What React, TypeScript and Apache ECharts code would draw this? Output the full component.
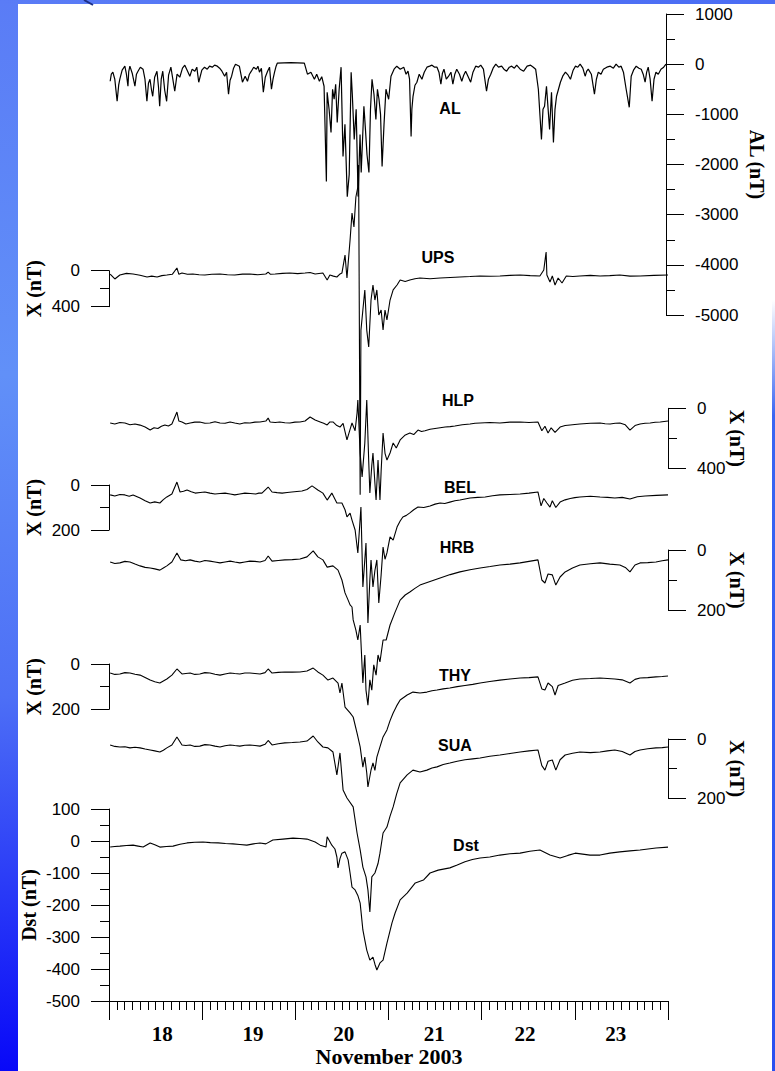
import React, { useEffect, useRef } from 'react';
import * as echarts from 'echarts';

// Time is given in hours since 2003-11-18 00:00 UT; values in nT.
const dayLabels = ['18', '19', '20', '21', '22', '23'];

const alData: number[][] = [
  [0.3, -340], [0.6, -200], [1.0, -160], [1.5, -300], [2.1, -740], [2.5, -420], [2.8, -300], [3.4, -120], [4.1, -40],
  [4.5, -200], [4.9, -440], [5.1, -150], [5.4, -40], [6.0, -180], [6.7, -440], [7.1, -200], [7.5, -140], [8.1, -60],
  [8.8, -100], [9.3, -300], [9.8, -740], [10.2, -380], [10.6, -300], [11.0, -520], [11.3, -640], [11.8, -260],
  [12.4, -140], [12.8, -460], [13.1, -840], [13.5, -300], [13.9, -140], [14.4, -520], [14.9, -740], [15.4, -220],
  [16.0, -60], [16.5, -300], [17.0, -540], [17.6, -200], [18.3, -260], [19.0, -80], [19.6, -20], [20.2, -120],
  [20.9, -240], [21.5, -100], [22.2, -140], [22.7, -60], [23.2, -360], [24.0, -120], [24.7, -60], [25.4, -100],
  [26.0, -40], [26.7, -60], [27.3, -20], [28.0, -40], [28.6, -80], [29.2, -140], [29.9, -240], [30.4, -160],
  [30.9, -600], [31.3, -320], [31.7, -240], [32.2, -80], [32.7, 0], [33.2, -20], [33.7, -40], [34.1, -200],
  [34.5, -360], [35.2, -240], [35.8, -340], [36.3, -200], [36.8, -140], [37.4, -60], [38.1, -100], [38.5, -40],
  [38.9, -160], [39.4, -80], [39.9, -560], [40.4, -260], [41.0, -140], [41.5, -60], [42.0, -500], [42.4, -300],
  [42.8, -160], [43.2, -40], [43.5, 20], [47.0, 30], [50.5, 20], [51.3, -200], [52.2, -160], [53.1, -300],
  [53.7, -200], [54.4, -340], [55.0, -250], [55.6, -440], [56.2, -2340], [56.4, -560], [56.9, -900], [57.4, -1360],
  [57.8, -500], [58.2, -700], [58.6, -400], [59.0, -1160], [59.5, -500], [60.0, -60], [60.5, -1840], [61.0, -1200],
  [61.6, -2640], [62.1, -2200], [62.6, -160], [62.9, -600], [63.4, -1500], [63.9, -900], [64.4, -2640], [64.9, -1400],
  [65.2, -2160], [65.9, -840], [66.3, -1300], [66.7, -1800], [67.2, -2160], [67.6, -900], [68.0, -300], [68.5, -600],
  [69.0, -1100], [69.4, -500], [69.8, -700], [70.2, -1000], [70.6, -2040], [71.1, -1200], [71.6, -500], [72.3, -700],
  [72.9, -240], [73.7, -100], [74.4, -40], [75.3, -100], [76.2, -60], [76.8, -200], [77.3, -140], [77.7, -300],
  [78.1, -1440], [78.3, -900], [78.6, -640], [79.1, -420], [79.6, -360], [80.2, -200], [80.9, -300], [81.5, -160],
  [82.2, -60], [82.9, -40], [83.5, -20], [84.2, -60], [84.8, -60], [85.3, -160], [85.8, -400], [86.2, -180],
  [86.6, -100], [87.2, -300], [87.8, -240], [88.4, -160], [88.9, -400], [89.4, -200], [89.9, -100], [90.6, -200],
  [91.2, -340], [91.7, -220], [92.2, -140], [92.8, -240], [93.5, -360], [94.1, -160], [94.8, -40], [95.5, -60],
  [96.1, -20], [96.8, -100], [97.6, -540], [98.1, -300], [98.7, -200], [99.3, -80], [100.0, 0], [100.7, -60],
  [101.5, -40], [102.1, -100], [102.8, -140], [103.5, -60], [104.1, -40], [104.8, -80], [105.4, -20], [106.3, -100],
  [107.2, -140], [108.1, -40], [109.0, -20], [109.7, -60], [110.3, -100], [111.0, -500], [111.8, -1500], [112.2, -900],
  [112.6, -840], [113.1, -440], [113.9, -1300], [114.4, -560], [114.9, -1560], [115.3, -900], [115.7, -640],
  [116.2, -500], [116.7, -360], [117.3, -240], [118.0, -160], [118.7, -220], [119.3, -300], [120.0, -120],
  [120.6, -40], [121.2, -60], [121.8, 0], [122.5, -80], [123.1, -240], [123.5, -140], [123.9, -100], [124.7, -200],
  [125.5, -600], [126.0, -300], [126.5, -160], [127.2, -200], [127.8, -100], [128.7, -60], [129.6, -40], [130.4, -80],
  [131.1, 0], [131.8, -60], [132.4, -40], [133.0, -160], [133.7, -500], [134.5, -860], [135.0, -240], [135.6, -120],
  [136.3, -40], [137.0, -80], [137.6, -100], [138.1, -200], [138.6, -360], [139.0, -160], [139.4, -60], [139.9, -300],
  [140.4, -740], [140.9, -300], [141.4, -160], [142.0, -200], [142.7, -100], [143.4, -60], [144.0, 0],
];

const upsData: number[][] = [
  [0.3, 37], [1.5, 92], [2.8, 48], [4.5, 30], [6.2, 37], [8.0, 50], [9.8, 70], [11.0, 60], [12.4, 70], [13.6, 55],
  [14.9, 48], [16.3, 40], [17.5, -30], [18.0, 40], [18.8, 26], [20.2, 40], [21.6, 37], [23.2, 45], [24.7, 48],
  [26.5, 40], [28.6, 37], [30.5, 45], [32.4, 48], [34.4, 38], [36.3, 37], [38.3, 45], [40.4, 37], [41.0, 15],
  [41.6, 40], [42.8, 37], [44.7, 30], [46.6, 26], [48.6, 32], [50.5, 26], [51.8, 20], [53.1, 37], [55.1, 26],
  [56.2, 103], [56.9, 48], [57.8, 60], [58.7, 70], [59.4, 40], [60.0, 26], [60.8, -174], [61.3, 81],
  [62.1, -341], [62.6, -641], [63.1, -486], [63.6, -819], [64.1, -930], [64.3, -1175], [64.7, 2490], [64.9, 660],
  [65.4, 437], [65.9, 214], [66.4, 660], [66.9, 848], [67.5, 326], [68.0, 159], [68.5, 326], [69.0, 214],
  [69.5, 492], [70.1, 437], [70.6, 659], [71.1, 437], [71.6, 548], [72.4, 326], [73.2, 214], [74.2, 159],
  [75.0, 103], [76.3, 120], [77.5, 103], [78.8, 90], [80.1, 81], [82.7, 90], [85.3, 81], [87.9, 75], [90.4, 70],
  [93.0, 65], [95.6, 59], [98.2, 62], [100.7, 59], [103.3, 52], [105.9, 48], [108.5, 55], [111.0, 59], [112.0, -8],
  [112.6, -208], [112.8, 48], [113.6, 126], [114.2, 59], [114.9, 159], [115.7, 81], [116.7, 137], [117.8, 59],
  [119.5, 65], [121.3, 59], [124.0, 52], [126.5, 59], [129.0, 55], [131.6, 48], [134.2, 60], [136.8, 59],
  [140.4, 52], [144.0, 48],
];

const hlpData: number[][] = [
  [0.3, 98], [1.5, 105], [2.8, 95], [4.1, 98], [5.4, 110], [6.7, 105], [8.0, 112], [9.3, 125], [10.6, 145],
  [11.6, 130], [12.6, 135], [13.5, 120], [14.4, 111], [15.3, 118], [16.2, 105], [17.5, 25], [18.0, 85], [18.8, 91],
  [19.8, 105], [20.9, 98], [22.1, 92], [23.4, 91], [24.7, 100], [26.0, 98], [27.3, 90], [28.6, 98], [29.9, 100],
  [31.2, 91], [32.4, 98], [33.7, 105], [35.0, 96], [36.3, 98], [37.6, 92], [38.9, 91], [40.4, 85], [41.0, 65],
  [41.5, 91], [42.8, 95], [44.0, 91], [45.3, 96], [46.6, 98], [47.9, 92], [49.2, 91], [50.5, 85], [51.8, 58],
  [53.1, 78], [54.4, 91], [55.3, 100], [56.2, 111], [56.9, 91], [57.7, 91], [58.7, 115], [59.5, 125], [60.3, 100],
  [61.3, 211], [62.1, 140], [62.6, 98], [63.4, 150], [63.9, 31], [64.1, -55], [64.7, 300], [65.2, 458], [65.9, 231],
  [66.4, -55], [66.9, 350], [67.2, 565], [67.7, 380], [68.0, 298], [68.5, 500], [68.8, 611], [69.3, 345], [69.8, 611],
  [70.1, 420], [70.6, 165], [71.1, 300], [71.6, 345], [72.4, 298], [73.2, 231], [74.0, 265], [75.0, 211], [76.2, 180],
  [77.5, 165], [78.5, 175], [79.6, 145], [80.5, 155], [81.4, 150], [82.7, 140], [84.0, 135], [85.3, 130], [86.6, 125],
  [87.9, 122], [89.1, 118], [91.0, 110], [93.0, 105], [94.3, 100], [95.6, 98], [98.1, 95], [100.7, 98], [103.3, 92],
  [105.9, 91], [108.2, 95], [110.5, 91], [111.5, 150], [112.3, 120], [113.1, 165], [113.9, 130], [114.9, 160],
  [116.2, 125], [117.5, 115], [118.8, 111], [120.0, 108], [121.3, 105], [124.0, 100], [126.5, 98], [127.8, 103],
  [129.1, 105], [130.4, 100], [131.6, 98], [133.0, 110], [134.2, 145], [135.5, 115], [136.8, 105], [138.1, 100],
  [139.4, 98], [140.7, 93], [142.0, 91], [144.0, 85],
];

const belData: number[][] = [
  [0.3, 44], [1.5, 49], [2.8, 42], [4.1, 44], [5.2, 50], [6.2, 44], [8.0, 58], [9.3, 70], [10.6, 80], [11.8, 75],
  [13.1, 80], [14.0, 65], [14.9, 53], [16.2, 40], [17.5, -13], [18.3, 31], [19.2, 28], [20.1, 22], [21.2, 30],
  [22.2, 36], [23.5, 33], [24.7, 31], [26.0, 36], [27.3, 40], [28.6, 38], [29.9, 36], [31.2, 40], [32.4, 44],
  [33.7, 40], [35.0, 36], [36.4, 38], [37.8, 40], [38.6, 36], [39.4, 36], [41.0, 9], [42.0, 31], [43.3, 34],
  [44.6, 36], [45.9, 33], [47.1, 31], [48.4, 29], [49.7, 27], [51.0, 20], [52.3, 4], [53.8, 22], [55.1, 36],
  [56.2, 67], [57.4, 36], [58.7, 80], [60.0, 80], [60.8, 110], [61.3, 142], [62.1, 125], [62.6, 156], [63.4, 200],
  [64.1, 302], [64.7, 150], [64.9, 98], [65.4, 453], [66.2, 258], [66.7, 613], [67.2, 420], [67.5, 333], [68.0, 453],
  [68.5, 380], [69.0, 333], [69.5, 524], [70.1, 400], [70.6, 276], [71.1, 330], [71.6, 302], [72.4, 231], [73.2, 245],
  [74.2, 187], [75.0, 160], [75.7, 142], [76.6, 135], [77.5, 124], [78.5, 110], [79.6, 98], [81.1, 100], [82.7, 93],
  [84.0, 85], [85.3, 80], [86.5, 82], [87.8, 76], [89.1, 70], [90.4, 67], [91.7, 62], [93.0, 58], [95.0, 55],
  [96.9, 53], [98.8, 48], [100.7, 44], [103.3, 42], [105.9, 40], [108.2, 36], [110.5, 31], [111.3, 93], [112.0, 60],
  [112.8, 80], [113.6, 98], [114.2, 70], [115.1, 100], [116.2, 76], [117.5, 66], [118.8, 60], [120.0, 56],
  [121.3, 53], [124.0, 50], [126.5, 53], [128.4, 55], [130.3, 58], [132.2, 55], [134.2, 62], [136.1, 52],
  [138.1, 49], [141.0, 46], [144.0, 44],
];

const hrbData: number[][] = [
  [0.3, 40], [1.5, 45], [2.8, 43], [4.1, 38], [5.4, 40], [6.7, 47], [8.0, 53], [9.3, 58], [10.6, 60], [11.8, 63],
  [13.1, 67], [14.0, 60], [14.9, 53], [16.2, 40], [17.5, 10], [18.5, 33], [19.7, 36], [20.9, 33], [22.1, 37],
  [23.4, 40], [24.7, 35], [26.0, 37], [27.3, 40], [28.6, 43], [29.9, 40], [31.2, 37], [32.4, 40], [33.7, 43],
  [35.0, 40], [36.3, 37], [37.6, 38], [38.9, 40], [40.2, 35], [41.0, 20], [42.0, 37], [43.6, 35], [45.3, 33],
  [47.2, 32], [49.2, 30], [51.0, 23], [52.6, 3], [53.8, 23], [55.1, 33], [56.2, 57], [57.7, 53], [59.0, 67],
  [60.0, 100], [60.8, 143], [61.6, 167], [62.1, 183], [62.6, 190], [62.9, 233], [63.6, 267], [64.1, 300],
  [64.7, 250], [65.2, 390], [65.4, 443], [65.9, 350], [66.2, 467], [66.7, 517], [67.2, 433], [67.7, 467], [68.2, 383],
  [68.8, 417], [69.3, 350], [69.8, 373], [70.6, 300], [71.4, 300], [72.4, 250], [73.7, 207], [75.0, 167], [76.3, 150],
  [77.5, 140], [78.8, 128], [80.1, 117], [82.7, 105], [85.3, 93], [87.9, 82], [90.4, 73], [93.0, 66], [95.6, 60],
  [98.2, 55], [100.7, 50], [103.3, 47], [105.9, 43], [108.2, 38], [110.5, 33], [111.5, 100], [112.3, 110],
  [113.1, 80], [114.2, 83], [115.1, 117], [116.2, 90], [117.5, 73], [119.4, 60], [121.3, 50], [124.0, 46],
  [126.5, 43], [129.0, 47], [131.6, 50], [133.0, 58], [134.2, 73], [135.5, 50], [136.8, 43], [138.8, 42],
  [140.9, 40], [142.5, 36], [144.0, 33],
];

const thyData: number[][] = [
  [0.3, 40], [1.5, 46], [2.8, 44], [4.1, 38], [5.4, 40], [6.7, 45], [8.0, 49], [9.3, 60], [10.6, 71], [11.8, 78],
  [13.1, 84], [14.0, 75], [14.9, 66], [16.2, 49], [17.5, 22], [18.8, 44], [19.8, 42], [20.9, 40], [22.1, 46],
  [23.4, 44], [24.7, 38], [26.0, 40], [27.3, 45], [28.6, 49], [29.9, 44], [31.2, 40], [32.4, 42], [33.7, 44],
  [35.0, 40], [36.3, 40], [37.6, 42], [38.9, 44], [40.2, 38], [41.0, 22], [42.0, 40], [43.6, 37], [45.3, 35],
  [47.2, 36], [49.2, 35], [51.0, 31], [52.6, 18], [53.8, 35], [55.1, 49], [56.4, 71], [57.7, 62], [59.0, 84],
  [59.5, 128], [60.0, 84], [60.8, 190], [62.1, 216], [62.9, 234], [63.9, 305], [64.7, 366], [65.4, 455], [65.9, 411],
  [66.4, 481], [66.7, 543], [67.5, 468], [68.0, 437], [68.5, 470], [69.0, 411], [69.8, 366], [70.6, 322], [71.6, 291],
  [72.4, 250], [73.2, 216], [74.1, 185], [75.0, 159], [76.8, 137], [78.3, 124], [80.1, 128], [81.9, 124], [83.2, 118],
  [84.5, 115], [86.1, 110], [87.8, 106], [89.7, 100], [91.7, 95], [93.7, 90], [95.6, 84], [98.1, 77], [100.7, 71],
  [103.3, 66], [105.9, 62], [108.2, 60], [110.5, 57], [111.5, 110], [112.3, 115], [113.1, 84], [114.2, 100],
  [114.9, 137], [115.7, 95], [117.5, 84], [119.4, 72], [121.3, 66], [124.0, 64], [126.5, 62], [128.4, 64],
  [130.3, 66], [132.2, 70], [134.2, 84], [135.5, 68], [136.8, 62], [138.8, 60], [140.9, 57], [142.5, 55], [144.0, 53],
];

const suaData: number[][] = [
  [0.3, 20], [1.5, 25], [2.8, 27], [4.1, 26], [5.4, 30], [6.7, 28], [8.0, 30], [9.3, 34], [10.6, 37], [11.8, 40],
  [13.1, 44], [14.0, 38], [14.9, 30], [16.2, 20], [17.5, -7], [18.8, 20], [19.8, 22], [20.9, 20], [22.1, 25],
  [23.4, 24], [24.7, 19], [26.0, 20], [27.3, 24], [28.6, 27], [29.9, 23], [31.2, 20], [32.4, 22], [33.7, 24],
  [35.0, 21], [36.3, 20], [37.6, 22], [38.9, 24], [40.2, 18], [41.0, 5], [42.0, 20], [43.6, 16], [45.3, 13],
  [47.2, 12], [49.2, 10], [51.0, 7], [52.6, -10], [53.8, 10], [55.1, 27], [56.4, 30], [57.7, 44], [58.7, 121],
  [59.5, 47], [60.3, 172], [61.3, 199], [62.9, 229], [63.9, 317], [64.7, 374], [65.4, 432], [66.2, 465], [66.7, 509],
  [67.2, 583], [67.7, 465], [68.5, 452], [69.3, 420], [69.8, 385], [70.6, 317], [71.6, 297], [72.4, 260], [73.2, 229],
  [74.1, 185], [75.0, 148], [76.8, 121], [78.3, 105], [80.1, 111], [81.9, 105], [83.2, 98], [84.5, 94], [86.1, 86],
  [87.8, 81], [89.7, 75], [91.7, 70], [93.7, 67], [95.6, 64], [98.1, 58], [100.7, 54], [103.3, 49], [105.9, 44],
  [108.2, 40], [110.5, 37], [111.5, 90], [112.3, 105], [113.1, 75], [114.2, 71], [115.1, 105], [116.2, 70],
  [117.5, 54], [119.4, 48], [121.3, 44], [124.0, 46], [126.5, 44], [128.4, 40], [130.3, 37], [132.2, 42],
  [134.2, 54], [135.5, 42], [136.8, 37], [138.8, 33], [140.9, 30], [142.5, 29], [144.0, 27],
];

const dstData: number[][] = [
  [0.3, -19], [1.5, -17], [2.8, -16], [4.5, -14], [6.2, -13], [7.5, -16], [8.8, -19], [10.6, -6], [11.8, -12],
  [13.1, -19], [14.8, -17], [16.5, -16], [18.3, -10], [20.1, -6], [22.1, -4], [24.2, -3], [26.1, -5], [28.1, -6],
  [30.0, -8], [31.9, -9], [33.7, -11], [35.5, -13], [37.2, -9], [38.9, -6], [40.4, -9], [42.2, 3], [44.8, 6],
  [47.4, 9], [49.2, 8], [51.0, 6], [53.1, -3], [54.4, -13], [55.9, -19], [56.2, 13], [57.4, -13], [58.2, -25],
  [58.7, -50], [59.0, -84], [59.5, -55], [60.0, -38], [60.8, -34], [61.6, -59], [62.1, -100], [62.6, -144],
  [63.4, -153], [64.1, -170], [64.7, -194], [65.4, -278], [65.9, -310], [66.4, -341], [67.2, -372], [68.0, -363],
  [68.5, -385], [69.0, -403], [69.8, -381], [70.6, -372], [71.6, -319], [72.9, -256], [73.7, -225], [75.0, -184],
  [76.8, -163], [78.9, -131], [81.0, -122], [82.7, -100], [84.8, -91], [87.8, -84], [89.7, -75], [91.7, -65],
  [93.6, -58], [95.6, -53], [98.1, -50], [100.7, -44], [103.3, -40], [105.9, -38], [108.4, -32], [111.0, -28],
  [113.6, -44], [116.2, -53], [118.2, -45], [120.1, -38], [123.9, -44], [126.5, -44], [129.0, -38], [131.6, -34],
  [134.2, -31], [136.8, -28], [140.9, -22], [144.0, -19],
];

// Layout of the stacked panels (page pixels)
const PLOT_LEFT = 109;
const PLOT_WIDTH = 559;

type Panel = {
  label: string; data: number[][]; side: 'left' | 'right';
  top: number; height: number; min: number; max: number; interval: number; inverse: boolean;
  axisName: string; nameGap: number; labelX: number; labelY: number; width: number;
};

const panels: Panel[] = [
  { label: 'AL', data: alData, side: 'right', top: 14, height: 301, min: -5000, max: 1000, interval: 1000, inverse: false, axisName: 'AL (nT)', nameGap: 81, labelX: 450, labelY: 108, width: 1.2 },
  { label: 'UPS', data: upsData, side: 'left', top: 270.7, height: 36, min: 0, max: 400, interval: 400, inverse: true, axisName: 'X (nT)', nameGap: 65, labelX: 438, labelY: 257, width: 1.1 },
  { label: 'HLP', data: hlpData, side: 'right', top: 408.3, height: 60, min: 0, max: 400, interval: 400, inverse: true, axisName: 'X (nT)', nameGap: 59, labelX: 458, labelY: 400, width: 1.1 },
  { label: 'BEL', data: belData, side: 'left', top: 485, height: 45, min: 0, max: 200, interval: 200, inverse: true, axisName: 'X (nT)', nameGap: 65, labelX: 460, labelY: 487, width: 1.1 },
  { label: 'HRB', data: hrbData, side: 'right', top: 550, height: 60, min: 0, max: 200, interval: 200, inverse: true, axisName: 'X (nT)', nameGap: 59, labelX: 457, labelY: 547, width: 1.1 },
  { label: 'THY', data: thyData, side: 'left', top: 664, height: 45.3, min: 0, max: 200, interval: 200, inverse: true, axisName: 'X (nT)', nameGap: 65, labelX: 455, labelY: 675, width: 1.1 },
  { label: 'SUA', data: suaData, side: 'right', top: 739, height: 59.3, min: 0, max: 200, interval: 200, inverse: true, axisName: 'X (nT)', nameGap: 59, labelX: 455, labelY: 745, width: 1.1 },
  { label: 'Dst', data: dstData, side: 'left', top: 809, height: 192, min: -500, max: 100, interval: 100, inverse: false, axisName: 'Dst (nT)', nameGap: 70, labelX: 466, labelY: 845, width: 1.1 },
];

const SANS = '"Liberation Sans", Arial, sans-serif';
const SERIF = '"Liberation Serif", "Times New Roman", serif';
const INK = '#000';

function buildOption(): any {
  const grid: any[] = panels.map((p) => ({ left: PLOT_LEFT, width: PLOT_WIDTH, top: p.top, height: p.height }));
  grid.push({ left: 117, width: 544, top: 809, height: 192 });

  const xAxis: any[] = panels.map((p, i) => {
    const isBottom = p.label === 'Dst';
    return {
      type: 'value', gridIndex: i, min: 0, max: 144, interval: 24, show: isBottom,
      axisLine: { show: isBottom, onZero: false, lineStyle: { color: INK, width: 1 } },
      axisTick: { show: isBottom, length: 19, lineStyle: { color: INK, width: 1 } },
      minorTick: { show: isBottom, splitNumber: 12, length: 9, lineStyle: { color: INK, width: 1 } },
      axisLabel: { show: false }, splitLine: { show: false }, minorSplitLine: { show: false },
    };
  });
  xAxis.push({
    type: 'category', gridIndex: panels.length, data: dayLabels, boundaryGap: true, position: 'bottom',
    axisLine: { show: false }, axisTick: { show: false }, splitLine: { show: false },
    axisLabel: { color: INK, fontFamily: SERIF, fontWeight: 'bold', fontSize: 21, margin: 22 },
    name: 'November 2003', nameLocation: 'middle', nameGap: 44, nameMoveOverlap: false,
    nameTextStyle: { color: INK, fontFamily: SERIF, fontWeight: 'bold', fontSize: 22 },
  });

  const yAxis: any[] = panels.map((p, i) => ({
    type: 'value', gridIndex: i, position: p.side, min: p.min, max: p.max, interval: p.interval, inverse: p.inverse,
    axisLine: { show: true, onZero: false, lineStyle: { color: INK, width: 1 } },
    axisTick: { show: true, length: 18, lineStyle: { color: INK, width: 1 } },
    minorTick: { show: true, splitNumber: 2, length: 9, lineStyle: { color: INK, width: 1 } },
    splitLine: { show: false }, minorSplitLine: { show: false },
    axisLabel: {
      color: INK, fontFamily: SANS, fontSize: 17, margin: 29, showMinLabel: true, showMaxLabel: true,
      formatter: (v: number) => String(v),
    },
    name: p.axisName, nameLocation: 'middle', nameGap: p.nameGap, nameMoveOverlap: false,
    nameRotate: p.side === 'right' ? -90 : 90,
    nameTextStyle: { color: INK, fontFamily: SERIF, fontWeight: 'bold', fontSize: 20 },
  }));
  yAxis.push({ type: 'value', gridIndex: panels.length, min: 0, max: 1, show: false });

  const series = panels.map((p, i) => ({
    name: p.label, type: 'line', xAxisIndex: i, yAxisIndex: i, data: p.data,
    showSymbol: false, symbol: 'none', clip: false, silent: true,
    lineStyle: { color: INK, width: p.width },
  }));

  const graphic: any[] = panels.map((p) => ({
    type: 'text', x: p.labelX, y: p.labelY, silent: true,
    style: {
      text: p.label, fill: INK, font: `bold 16px ${SANS}`,
      align: 'center', verticalAlign: 'middle', textAlign: 'center', textVerticalAlign: 'middle',
    },
  }));
  graphic.push({ type: 'line', shape: { x1: 84, y1: 0, x2: 93, y2: 5 }, style: { stroke: '#1d2f86', lineWidth: 2 }, silent: true });

  return { animation: false, backgroundColor: 'transparent', grid, xAxis, yAxis, series, graphic };
}

export default function App() {
  const ref = useRef<HTMLDivElement>(null);
  useEffect(() => {
    if (!ref.current) return;
    const chart = echarts.init(ref.current, null, { renderer: 'svg' });
    chart.setOption(buildOption());
    return () => chart.dispose();
  }, []);
  return (
    <div style={{ position: 'absolute', left: 0, top: 0, width: 775, height: 1071, background: '#fff', overflow: 'hidden' }}>
      <div style={{ position: 'absolute', left: 0, top: 0, width: 18, height: 1071, background: 'linear-gradient(to bottom, #5a7cf6 0%, #6190f8 35%, #4d6ff6 65%, #0808f8 100%)' }} />
      <div style={{ position: 'absolute', left: 0, top: 0, width: 775, height: 4, background: 'linear-gradient(to right, #5a7cf6, #4a6cf4)' }} />
      <div style={{ position: 'absolute', left: 772, top: 300, width: 3, height: 771, background: 'linear-gradient(to bottom, rgba(70,110,245,0) 0%, #3a66f2 15%, #2a50f0 100%)' }} />
      <div ref={ref} style={{ position: 'absolute', left: 0, top: 0, width: 775, height: 1071 }} />
    </div>
  );
}
